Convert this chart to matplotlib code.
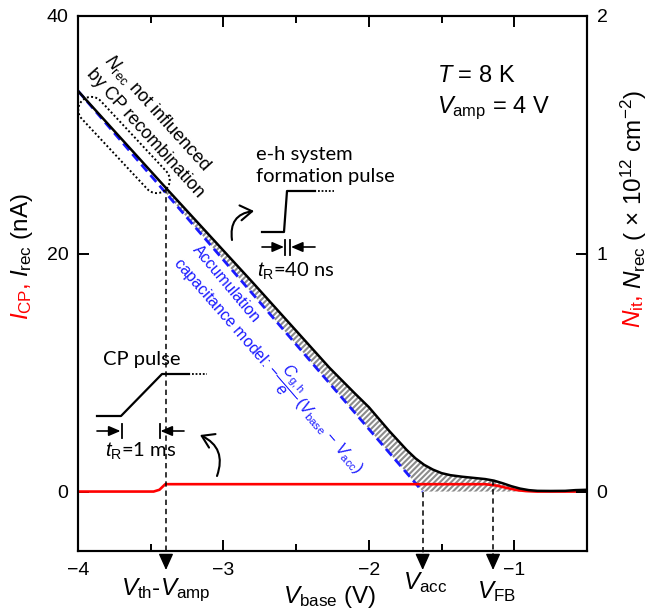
import numpy as np
import matplotlib
matplotlib.use('Agg')
import matplotlib.pyplot as plt
from matplotlib.patches import FancyArrowPatch
from matplotlib.lines import Line2D

plt.rcParams['font.family'] = ['Liberation Sans', 'DejaVu Sans']
plt.rcParams['mathtext.fontset'] = 'custom'
plt.rcParams['mathtext.rm'] = 'Liberation Sans'
plt.rcParams['mathtext.it'] = 'Liberation Sans:italic'
plt.rcParams['mathtext.bf'] = 'Liberation Sans:bold'
plt.rcParams['hatch.linewidth'] = 1.5
plt.rcParams['hatch.color'] = '#8c8c8c'

# ---------------- data ----------------
v_rec = [-4.0, -3.4, -2.8, -2.27, -2.1, -2.0, -1.93, -1.86, -1.80, -1.74, -1.68,
         -1.62, -1.56, -1.50, -1.44, -1.36, -1.28, -1.20, -1.14, -1.08, -1.02,
         -0.96, -0.90, -0.84, -0.75, -0.65, -0.58, -0.5]
i_rec = [33.7, 25.6, 17.6, 10.4, 8.3, 7.1, 6.1, 5.1, 4.3, 3.5, 2.8,
         2.25, 1.85, 1.55, 1.38, 1.25, 1.15, 1.05, 0.92, 0.7, 0.45,
         0.25, 0.12, 0.06, 0.05, 0.06, 0.12, 0.15]

v_cp = [-4.0, -3.48, -3.44, -3.40, -1.20, -1.12, -1.05, -0.98, -0.92, -0.85, -0.5]
i_cp = [0.0, 0.0, 0.15, 0.62, 0.62, 0.5, 0.3, 0.12, 0.04, 0.0, 0.0]

v_model = [-4.0, -1.63]
i_model = [33.7, 0.0]

v_th_amp = -3.395
v_acc = -1.63
v_fb = -1.146

x_ticks = [-4, -3, -2, -1]
x_minor = [-3.5, -2.5, -1.5]
y_ticks = [0, 20, 40]
y2_ticks = [0, 1, 2]

W, H = 650, 616


def F(px, py):
    return (px / W, 1 - py / H)


fig = plt.figure(figsize=(6.5, 6.16), dpi=100)
ax = fig.add_axes([78 / W, 1 - 551 / H, (587 - 78) / W, (551 - 16) / H])
ax.set_xlim(-4, -0.5)
ax.set_ylim(-5, 40)

# hatch region between measured curve and model
xg = np.array(sorted(set(v_rec + [v_acc])))
top = np.interp(xg, v_rec, i_rec)
low = np.interp(xg, v_model, i_model)
mask = (xg >= -3.4) & (xg <= -0.9)
ax.fill_between(xg, low, top, where=mask, facecolor='white', edgecolor='#8c8c8c',
                hatch='//////', linewidth=0, zorder=1)

ax.plot(v_model, i_model, color='#1a1aff', lw=2.0, dashes=(3.2, 1.8), zorder=2)
ax.plot(v_cp, i_cp, color='#ff0000', lw=1.9, zorder=3)
ax.plot(v_rec, i_rec, color='black', lw=1.8, zorder=4)

# vertical dashed markers with arrows
y_tops = [np.interp(v_th_amp, v_rec, i_rec), 0.0, np.interp(v_fb, v_rec, i_rec)]
for xv, yt in zip([v_th_amp, v_acc, v_fb], y_tops):
    ax.plot([xv, xv], [yt, -5.5], color='black', lw=1.1, dashes=(3.5, 2.5),
            clip_on=False, zorder=5)
    ax.annotate('', xy=(xv, -6.6), xytext=(xv, -5.4),
                arrowprops=dict(arrowstyle='-|>,head_length=1.0,head_width=0.45',
                                color='black', lw=1.0, shrinkA=0, shrinkB=0,
                                mutation_scale=10),
                annotation_clip=False)

fs_tick = 14
ax.set_xticks(x_ticks)
ax.set_xticklabels([f'\u2212{abs(t)}' for t in x_ticks])
ax.set_xticks(x_minor, minor=True)
ax.set_yticks(y_ticks)
ax.tick_params(which='both', direction='in', top=True, width=1.4, labelsize=fs_tick)
ax.tick_params(which='major', length=8)
ax.tick_params(which='minor', length=5)
ax.tick_params(axis='x', pad=8)
ax.tick_params(axis='y', pad=7)
for s in ax.spines.values():
    s.set_linewidth(1.5)

ax2 = ax.twinx()
ax2.set_ylim(-0.25, 2)
ax2.set_yticks(y2_ticks)
ax2.tick_params(direction='in', width=1.4, length=8, labelsize=fs_tick, pad=7)
for s in ax2.spines.values():
    s.set_linewidth(1.5)

# ---------------- axis labels ----------------
fs_lab = 17.5
fig.text(*F(166, 590), r'$V_{\rm th}$-$V_{\rm amp}$', fontsize=fs_lab, ha='center', va='center')
fig.text(*F(330, 597), r'$V_{\rm base}$ (V)', fontsize=fs_lab, ha='center', va='center')
fig.text(*F(425, 583), r'$V_{\rm acc}$', fontsize=fs_lab, ha='center', va='center')
fig.text(*F(496, 592), r'$V_{\rm FB}$', fontsize=fs_lab, ha='center', va='center')

tl = fig.text(*F(22, 320), r'$I_{\rm CP}$,', color='#ff0000', fontsize=fs_lab,
              rotation=90, ha='center', va='bottom')
ax.annotate(r'$I_{\rm rec}$ (nA)', xy=(0.5, 1.0), xycoords=tl, xytext=(0, 4),
            textcoords='offset points', fontsize=fs_lab, rotation=90,
            ha='center', va='bottom', annotation_clip=False)

tr = fig.text(*F(634, 328), r'$N_{\rm it}$,', color='#ff0000', fontsize=fs_lab,
              rotation=90, ha='center', va='bottom')
ax.annotate(r'$N_{\rm rec}$ ( × 10$^{12}$ cm$^{-2}$)', xy=(0.5, 1.0), xycoords=tr,
            xytext=(0, 4), textcoords='offset points', fontsize=fs_lab, rotation=90,
            ha='center', va='bottom', annotation_clip=False)

# ---------------- annotations ----------------
fig.text(*F(437, 82), r'$T$ = 8 K', fontsize=17, ha='left', va='baseline')
fig.text(*F(437, 113), r'$V_{\rm amp}$ = 4 V', fontsize=17, ha='left', va='baseline')

fig.text(*F(157, 113), r'$N_{\rm rec}$ not influenced', fontsize=13, rotation=-48,
         rotation_mode='anchor', ha='center', va='center')
fig.text(*F(145, 133), 'by CP recombination', fontsize=13, rotation=-48,
         rotation_mode='anchor', ha='center', va='center')

# dotted stadium around the unaffected region
cx, cy, L, R, ang = 124, 145, 96, 13, np.deg2rad(47)
t1 = np.linspace(-np.pi / 2, np.pi / 2, 40)
t2 = np.linspace(np.pi / 2, 3 * np.pi / 2, 40)
xs = np.concatenate([L / 2 + R * np.cos(t1), -L / 2 + R * np.cos(t2), [L / 2]])
ys = np.concatenate([R * np.sin(t1), R * np.sin(t2), [-R]])
px = cx + xs * np.cos(ang) - ys * np.sin(ang)
py = cy + xs * np.sin(ang) + ys * np.cos(ang)
fig.add_artist(Line2D(px / W, 1 - py / H, color='black', lw=1.4, ls=(0, (1, 1.2)),
                      transform=fig.transFigure))

# blue model text
blue = '#1a1aff'
fig.text(*F(192, 250), 'Accumulation', color=blue, fontsize=11.5, rotation=-50,
         rotation_mode='anchor', ha='left', va='baseline')
fig.text(*F(172, 263),
         r'capacitance model: $-\dfrac{C_{\rm g,h}}{e}\,(V_{\rm base}\,-\,V_{\rm acc})$',
         color=blue, fontsize=11.5, rotation=-49, rotation_mode='anchor',
         ha='left', va='baseline')

pulse_font = ['Lato', 'DejaVu Sans']
fs_p = 14.5
fig.text(*F(256, 160), 'e-h system', fontsize=fs_p, family=pulse_font, ha='left', va='baseline')
fig.text(*F(256, 182), 'formation pulse', fontsize=fs_p, family=pulse_font, ha='left', va='baseline')
fig.text(*F(257, 277), r'$t_{\rm R}$=40 ns', fontsize=fs_p, ha='left', va='baseline',
         family=pulse_font)
fig.text(*F(103, 365), 'CP pulse', fontsize=fs_p, family=pulse_font, ha='left', va='baseline')
fig.text(*F(105, 457), r'$t_{\rm R}$=1 ms', fontsize=fs_p, ha='left', va='baseline',
         family=pulse_font)


def fline(pts, **kw):
    xs = [p[0] / W for p in pts]
    ys = [1 - p[1] / H for p in pts]
    fig.add_artist(Line2D(xs, ys, transform=fig.transFigure, **kw))


# e-h pulse sketch
fline([(262, 232), (284, 232), (287, 191), (315, 191)], color='black', lw=1.6)
fline([(318, 191), (334, 191)], color='black', lw=1.3, ls=(0, (1, 1)))
fline([(285, 240), (285, 255)], color='black', lw=1.3)
fline([(290, 240), (290, 255)], color='black', lw=1.3)
# CP pulse sketch
fline([(97, 416), (121, 416), (162, 374), (189, 374)], color='black', lw=1.6)
fline([(192, 374), (207, 374)], color='black', lw=1.3, ls=(0, (1, 1)))
fline([(121.5, 424), (121.5, 438)], color='black', lw=1.3)
fline([(159.5, 424), (159.5, 438)], color='black', lw=1.3)

arrow_kw = dict(arrowstyle='-|>,head_length=0.7,head_width=0.3', color='black', lw=1.2,
                shrinkA=0, shrinkB=0, mutation_scale=10)
for a, b in [((262, 247), (284, 247)), ((315, 247), (291, 247)),
             ((97, 431), (120.5, 431)), ((184, 431), (160.5, 431))]:
    fig.add_artist(FancyArrowPatch(F(*a), F(*b), transform=fig.transFigure, **arrow_kw))

curve_kw = dict(arrowstyle='->,head_length=0.7,head_width=0.45', color='black', lw=1.5,
                mutation_scale=12, shrinkA=0, shrinkB=0)
fig.add_artist(FancyArrowPatch(F(232, 240), F(254, 211), transform=fig.transFigure,
                               connectionstyle='arc3,rad=-0.5', **curve_kw))
fig.add_artist(FancyArrowPatch(F(217, 476), F(200, 435), transform=fig.transFigure,
                               connectionstyle='arc3,rad=0.45', **curve_kw))

fig.savefig('out.png', dpi=100)
